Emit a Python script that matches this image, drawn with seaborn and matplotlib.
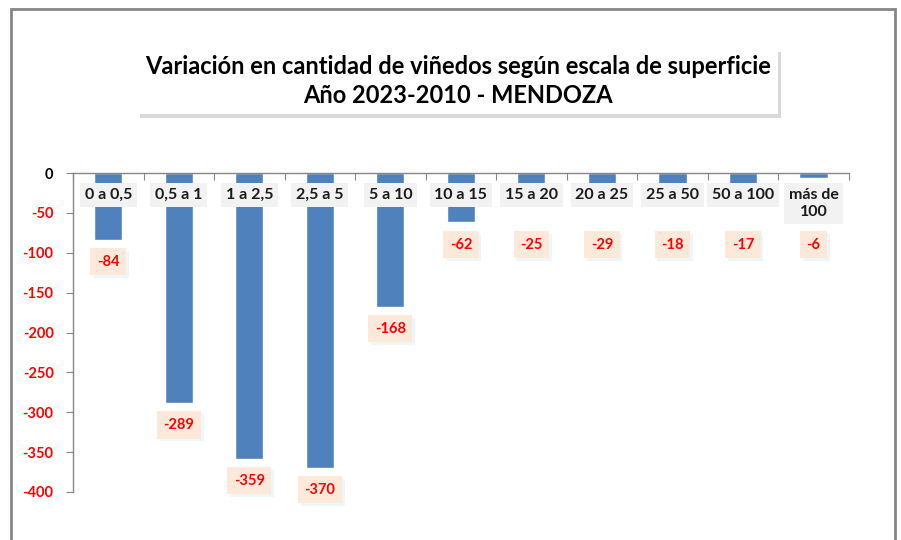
import matplotlib
matplotlib.use('Agg')
import matplotlib.pyplot as plt
import matplotlib.patheffects as pe
from matplotlib.patches import Rectangle
import seaborn as sns
import pandas as pd

categories = ['0 a 0,5', '0,5 a 1', '1 a 2,5', '2,5 a 5', '5 a 10', '10 a 15',
              '15 a 20', '20 a 25', '25 a 50', '50 a 100', 'más de\n100']
values = [-84, -289, -359, -370, -168, -62, -25, -29, -18, -17, -6]
y_ticks = [0, -50, -100, -150, -200, -250, -300, -350, -400]

df = pd.DataFrame({'escala': categories, 'variacion': values})

sns.set_style('white')
plt.rcParams['font.family'] = ['Lato', 'DejaVu Sans']

fig = plt.figure(figsize=(9.01, 5.40), dpi=100)
ax = fig.add_axes([0.081, 0.0889, 0.861, 0.5907])

sns.barplot(data=df, x='escala', y='variacion', color='#4F81BD', width=0.4,
            saturation=1, ax=ax)

ax.set_ylim(-400, 0)
ax.set_xlim(-0.5, len(categories) - 0.5)
ax.set_xlabel('')
ax.set_ylabel('')

# spines: the zero line acts as the category axis
for s in ['bottom', 'right']:
    ax.spines[s].set_visible(False)
for s in ['top', 'left']:
    ax.spines[s].set_color('#868686')
    ax.spines[s].set_linewidth(1)

# tick marks at category boundaries on the zero line
ax.set_xticks([i - 0.5 for i in range(len(categories) + 1)])
ax.set_xticklabels([])
ax.tick_params(axis='x', bottom=False, top=True, direction='in', length=5,
               color='#868686', labeltop=False, labelbottom=False)

ax.set_yticks(y_ticks)
ax.set_yticklabels([str(t) for t in y_ticks])
ax.tick_params(axis='y', left=True, direction='out', length=5, color='#868686',
               pad=9, labelsize=10.5)
for lbl, t in zip(ax.get_yticklabels(), y_ticks):
    lbl.set_fontweight('bold')
    lbl.set_color('black' if t == 0 else '#FF0000')

# category labels over the bars
for i, c in enumerate(categories):
    ax.text(i, -19, c, ha='center', va='top', fontsize=11.5, fontweight='bold',
            color='#1a1a1a', linespacing=1.3,
            bbox=dict(boxstyle='square,pad=0.3', fc='#F2F2F2', ec='none'))

# data labels
for i, v in enumerate(values):
    y = v - 27 if v < -70 else -90
    t = ax.text(i, y, str(v), ha='center', va='center', fontsize=10.5,
                fontweight='bold', color='#FF0000',
                bbox=dict(boxstyle='square,pad=0.45', fc='#FDE9D9', ec='none'))
    t.get_bbox_patch().set_path_effects([
        pe.SimplePatchShadow(offset=(2, -2), shadow_rgbFace='#CDE6EE', alpha=0.35),
        pe.Normal()])

# title box
title = fig.text(0.508, 0.85, 'Variación en cantidad de viñedos según escala de superficie\nAño 2023-2010 - MENDOZA',
                 ha='center', va='center', fontsize=17, fontweight='bold',
                 linespacing=1.3, color='black',
                 bbox=dict(boxstyle='square,pad=0.3', fc='white', ec='none'))
title.get_bbox_patch().set_path_effects([
    pe.SimplePatchShadow(offset=(2, -3), shadow_rgbFace='#A0A0A0', alpha=0.4),
    pe.Normal()])

# outer chart frame
fig.patches.append(Rectangle((11 / 901, -0.05), 884 / 901, 1.05 - 9 / 540,
                             transform=fig.transFigure, fill=False,
                             ec='#868686', lw=2))

fig.savefig('out.png', dpi=100)
